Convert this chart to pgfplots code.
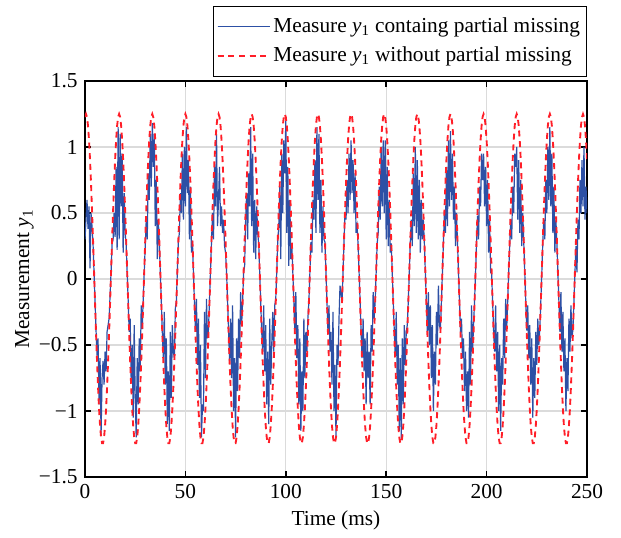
\documentclass[border=0pt]{standalone}
\usepackage{fontspec}
\setmainfont{Liberation Serif}
\usepackage{pgfplots}
\usepackage{pgfplotstable}
\pgfplotsset{compat=1.18}
\definecolor{mblue}{RGB}{45,80,165}
\definecolor{mred}{RGB}{255,30,40}
\pgfplotstableread{
t r b
0 1.227 0.30
0.5 1.250 0.45
1 1.227 0.60
1.5 1.161 0.38
2 1.052 0.55
2.5 0.905 0.08
3 0.725 0.50
3.5 0.519 0.40
4 0.295 0.27
4.5 0.060 0.05
5 -0.178 -0.17
5.5 -0.409 -0.39
6 -0.625 -0.58
6.5 -0.819 -0.45
7 -0.983 -0.95
7.5 -1.111 -0.60
8 -1.199 -1.18
8.5 -1.244 -0.75
9 -1.244 -0.62
9.5 -1.199 -0.80
10 -1.111 -0.55
10.5 -0.983 -0.70
11 -0.819 -0.40
11.5 -0.625 -0.35
12 -0.409 -0.30
12.5 -0.178 -0.12
13 0.060 0.06
13.5 0.295 0.27
14 0.519 0.30
14.5 0.725 0.50
15 0.905 0.32
15.5 1.052 0.85
16 1.161 0.22
16.5 1.227 1.15
17 1.250 0.30
17.5 1.227 1.10
18 1.161 0.55
18.5 1.052 0.95
19 0.905 0.20
19.5 0.725 0.65
20 0.519 0.35
20.5 0.295 0.26
21 0.060 0.05
21.5 -0.178 -0.16
22 -0.409 -0.40
22.5 -0.625 -0.30
23 -0.819 -0.78
23.5 -0.983 -0.50
24 -1.111 -1.05
24.5 -1.199 -0.35
25 -1.244 -0.90
25.5 -1.244 -1.20
26 -1.199 -0.60
26.5 -1.111 -0.95
27 -0.983 -0.45
27.5 -0.819 -0.70
28 -0.625 -0.20
28.5 -0.409 -0.38
29 -0.178 -0.15
29.5 0.060 0.05
30 0.295 0.25
30.5 0.519 0.45
31 0.725 0.30
31.5 0.905 0.80
32 1.052 0.60
32.5 1.161 1.10
33 1.227 0.70
33.5 1.250 1.18
34 1.227 0.85
34.5 1.161 1.10
35 1.052 0.40
35.5 0.905 0.75
36 0.725 0.15
36.5 0.519 0.45
37 0.295 0.28
37.5 0.060 0.05
38 -0.178 -0.17
38.5 -0.409 -0.40
39 -0.625 -0.60
39.5 -0.819 -0.25
40 -0.983 -0.80
40.5 -1.111 -0.45
41 -1.199 -1.10
41.5 -1.244 -0.70
42 -1.244 -1.15
42.5 -1.199 -0.40
43 -1.111 -0.90
43.5 -0.983 -0.35
44 -0.819 -0.55
44.5 -0.625 -0.60
45 -0.409 -0.22
45.5 -0.178 -0.17
46 0.060 0.06
46.5 0.295 0.28
47 0.519 0.35
47.5 0.725 0.65
48 0.905 0.50
48.5 1.052 0.95
49 1.161 0.45
49.5 1.227 1.00
50 1.250 0.55
50.5 1.227 1.15
51 1.161 0.65
51.5 1.052 0.90
52 0.905 0.30
52.5 0.725 0.70
53 0.519 0.20
53.5 0.295 0.29
54 0.060 0.05
54.5 -0.178 -0.17
55 -0.409 -0.40
55.5 -0.625 -0.15
56 -0.819 -0.65
56.5 -0.983 -0.30
57 -1.111 -0.90
57.5 -1.199 -0.50
58 -1.244 -1.20
58.5 -1.244 -0.95
59 -1.199 -1.00
59.5 -1.111 -0.25
60 -0.983 -0.75
60.5 -0.819 -0.15
61 -0.625 -0.45
61.5 -0.409 -0.38
62 -0.178 -0.16
62.5 0.060 0.06
63 0.295 0.28
63.5 0.519 0.50
64 0.725 0.30
64.5 0.905 0.85
65 1.052 0.55
65.5 1.161 1.10
66 1.227 0.40
66.5 1.250 0.60
67 1.227 0.85
67.5 1.161 0.40
68 1.052 0.55
68.5 0.905 0.35
69 0.725 0.45
69.5 0.519 0.25
70 0.295 0.20
70.5 0.060 0.05
71 -0.178 -0.17
71.5 -0.409 -0.39
72 -0.625 -0.62
72.5 -0.819 -0.30
73 -0.983 -0.75
73.5 -1.111 -0.20
74 -1.199 -1.00
74.5 -1.244 -0.60
75 -1.244 -1.20
75.5 -1.199 -0.45
76 -1.111 -0.85
76.5 -0.983 -0.30
77 -0.819 -0.60
77.5 -0.625 -0.10
78 -0.409 -0.35
78.5 -0.178 -0.17
79 0.060 0.05
79.5 0.295 0.10
80 0.519 0.45
80.5 0.725 0.65
81 0.905 0.30
81.5 1.052 0.80
82 1.161 0.55
82.5 1.227 1.15
83 1.250 0.40
83.5 1.227 0.95
84 1.161 0.20
84.5 1.052 0.60
85 0.905 0.15
85.5 0.725 0.55
86 0.519 0.35
86.5 0.295 0.27
87 0.060 0.05
87.5 -0.178 -0.17
88 -0.409 -0.40
88.5 -0.625 -0.55
89 -0.819 -0.20
89.5 -0.983 -0.70
90 -1.111 -0.35
90.5 -1.199 -0.95
91 -1.244 -0.55
91.5 -1.244 -1.10
92 -1.199 -0.30
92.5 -1.111 -0.80
93 -0.983 -0.50
93.5 -0.819 -0.25
94 -0.625 -0.55
94.5 -0.409 -0.20
95 -0.178 -0.15
95.5 0.060 0.06
96 0.295 0.29
96.5 0.519 0.40
97 0.725 0.70
97.5 0.905 0.15
98 1.052 0.95
98.5 1.161 0.50
99 1.227 1.05
99.5 1.250 0.80
100 1.227 1.20
100.5 1.161 0.35
101 1.052 0.85
101.5 0.905 0.10
102 0.725 0.60
102.5 0.519 0.15
103 0.295 0.25
103.5 0.060 0.05
104 -0.178 -0.17
104.5 -0.409 -0.40
105 -0.625 -0.10
105.5 -0.819 -0.60
106 -0.983 -0.35
106.5 -1.111 -0.95
107 -1.199 -0.45
107.5 -1.244 -1.15
108 -1.244 -0.70
108.5 -1.199 -1.00
109 -1.111 -0.30
109.5 -0.983 -0.75
110 -0.819 -0.40
110.5 -0.625 -0.55
111 -0.409 -0.30
111.5 -0.178 -0.17
112 0.060 0.05
112.5 0.295 0.28
113 0.519 0.20
113.5 0.725 0.60
114 0.905 0.45
114.5 1.052 0.90
115 1.161 0.35
115.5 1.227 1.15
116 1.250 0.60
116.5 1.227 1.10
117 1.161 0.35
117.5 1.052 0.75
118 0.905 0.20
118.5 0.725 0.55
119 0.519 0.30
119.5 0.295 0.28
120 0.060 0.05
120.5 -0.178 -0.17
121 -0.409 -0.40
121.5 -0.625 -0.20
122 -0.819 -0.55
122.5 -0.983 -0.40
123 -1.111 -0.80
123.5 -1.199 -0.25
124 -1.244 -1.00
124.5 -1.244 -0.65
125 -1.199 -1.20
125.5 -1.111 -0.50
126 -0.983 -0.65
126.5 -0.819 -0.30
127 -0.625 -0.05
127.5 -0.409 -0.10
128 -0.178 -0.17
128.5 0.060 0.05
129 0.295 0.29
129.5 0.519 0.50
130 0.725 0.45
130.5 0.905 0.75
131 1.052 0.50
131.5 1.161 0.95
132 1.227 0.60
132.5 1.250 1.05
133 1.227 0.65
133.5 1.161 0.90
134 1.052 0.50
134.5 0.905 0.80
135 0.725 0.35
135.5 0.519 0.40
136 0.295 0.26
136.5 0.060 0.05
137 -0.178 -0.17
137.5 -0.409 -0.40
138 -0.625 -0.60
138.5 -0.819 -0.30
139 -0.983 -0.70
139.5 -1.111 -0.45
140 -1.199 -0.95
140.5 -1.244 -0.40
141 -1.244 -0.75
141.5 -1.199 -0.55
142 -1.111 -0.95
142.5 -0.983 -0.35
143 -0.819 -0.55
143.5 -0.625 -0.10
144 -0.409 -0.30
144.5 -0.178 -0.17
145 0.060 0.05
145.5 0.295 0.27
146 0.519 0.35
146.5 0.725 0.70
147 0.905 0.45
147.5 1.052 1.00
148 1.161 0.55
148.5 1.227 1.05
149 1.250 0.50
149.5 1.227 1.05
150 1.161 0.30
150.5 1.052 0.85
151 0.905 0.25
151.5 0.725 0.60
152 0.519 0.20
152.5 0.295 0.27
153 0.060 0.05
153.5 -0.178 -0.17
154 -0.409 -0.38
154.5 -0.625 -0.58
155 -0.819 -0.25
155.5 -0.983 -0.80
156 -1.111 -0.50
156.5 -1.199 -1.15
157 -1.244 -0.60
157.5 -1.244 -1.22
158 -1.199 -0.45
158.5 -1.111 -0.95
159 -0.983 -0.35
159.5 -0.819 -0.65
160 -0.625 -0.40
160.5 -0.409 -0.35
161 -0.178 -0.17
161.5 0.060 0.05
162 0.295 0.28
162.5 0.519 0.45
163 0.725 0.25
163.5 0.905 0.80
164 1.052 0.40
164.5 1.161 1.00
165 1.227 0.35
165.5 1.250 0.90
166 1.227 0.30
166.5 1.161 0.75
167 1.052 0.20
167.5 0.905 0.60
168 0.725 0.30
168.5 0.519 0.45
169 0.295 0.27
169.5 0.060 0.05
170 -0.178 -0.17
170.5 -0.409 -0.40
171 -0.625 -0.10
171.5 -0.819 -0.50
172 -0.983 -0.20
172.5 -1.111 -0.75
173 -1.199 -0.35
173.5 -1.244 -1.00
174 -1.244 -0.55
174.5 -1.199 -0.80
175 -1.111 -0.25
175.5 -0.983 -0.50
176 -0.819 -0.05
176.5 -0.625 -0.35
177 -0.409 -0.38
177.5 -0.178 -0.17
178 0.060 0.05
178.5 0.295 0.28
179 0.519 0.50
179.5 0.725 0.35
180 0.905 0.85
180.5 1.052 0.40
181 1.161 1.05
181.5 1.227 0.55
182 1.250 1.12
182.5 1.227 0.60
183 1.161 0.95
183.5 1.052 0.45
184 0.905 0.70
184.5 0.725 0.25
185 0.519 0.50
185.5 0.295 0.28
186 0.060 0.05
186.5 -0.178 -0.17
187 -0.409 -0.40
187.5 -0.625 -0.30
188 -0.819 -0.60
188.5 -0.983 -0.45
189 -1.111 -0.85
189.5 -1.199 -0.55
190 -1.244 -1.00
190.5 -1.244 -0.70
191 -1.199 -1.05
191.5 -1.111 -0.40
192 -0.983 -0.80
192.5 -0.819 -0.20
193 -0.625 -0.55
193.5 -0.409 -0.35
194 -0.178 -0.17
194.5 0.060 0.05
195 0.295 0.28
195.5 0.519 0.48
196 0.725 0.30
196.5 0.905 0.70
197 1.052 0.55
197.5 1.161 0.95
198 1.227 0.75
198.5 1.250 0.95
199 1.227 0.55
199.5 1.161 0.85
200 1.052 0.40
200.5 0.905 0.75
201 0.725 0.20
201.5 0.519 0.45
202 0.295 0.05
202.5 0.060 0.04
203 -0.178 -0.17
203.5 -0.409 -0.40
204 -0.625 -0.55
204.5 -0.819 -0.20
205 -0.983 -0.70
205.5 -1.111 -0.40
206 -1.199 -1.00
206.5 -1.244 -0.50
207 -1.244 -1.15
207.5 -1.199 -0.60
208 -1.111 -0.80
208.5 -0.983 -0.30
209 -0.819 -0.60
209.5 -0.625 -0.15
210 -0.409 -0.38
210.5 -0.178 -0.17
211 0.060 0.05
211.5 0.295 0.25
212 0.519 0.45
212.5 0.725 0.30
213 0.905 0.70
213.5 1.052 0.50
214 1.161 0.95
214.5 1.227 0.85
215 1.250 1.00
215.5 1.227 0.45
216 1.161 0.90
216.5 1.052 0.35
217 0.905 0.75
217.5 0.725 0.25
218 0.519 0.50
218.5 0.295 0.28
219 0.060 0.05
219.5 -0.178 -0.17
220 -0.409 -0.39
220.5 -0.625 -0.20
221 -0.819 -0.60
221.5 -0.983 -0.35
222 -1.111 -0.80
222.5 -1.199 -0.45
223 -1.244 -1.05
223.5 -1.244 -0.60
224 -1.199 -0.90
224.5 -1.111 -0.40
225 -0.983 -0.65
225.5 -0.819 -0.30
226 -0.625 -0.50
226.5 -0.409 -0.38
227 -0.178 -0.17
227.5 0.060 0.05
228 0.295 0.28
228.5 0.519 0.45
229 0.725 0.30
229.5 0.905 0.75
230 1.052 0.50
230.5 1.161 1.00
231 1.227 0.60
231.5 1.250 1.15
232 1.227 0.55
232.5 1.161 0.95
233 1.052 0.35
233.5 0.905 0.70
234 0.725 0.20
234.5 0.519 0.45
235 0.295 0.27
235.5 0.060 0.05
236 -0.178 -0.17
236.5 -0.409 -0.40
237 -0.625 -0.10
237.5 -0.819 -0.55
238 -0.983 -0.25
238.5 -1.111 -0.70
239 -1.199 -0.45
239.5 -1.244 -1.00
240 -1.244 -0.60
240.5 -1.199 -0.85
241 -1.111 -0.30
241.5 -0.983 -0.55
242 -0.819 -0.20
242.5 -0.625 -0.45
243 -0.409 -0.38
243.5 -0.178 -0.17
244 0.060 0.05
244.5 0.295 0.25
245 0.519 0.05
245.5 0.725 0.45
246 0.905 0.30
246.5 1.052 0.75
247 1.161 0.50
247.5 1.227 0.90
248 1.250 0.55
248.5 1.227 1.00
249 1.161 0.45
249.5 1.052 0.70
250 0.905 0.50
}\data

\begin{document}
\fontsize{16}{19}\selectfont
\begin{tikzpicture}
\begin{axis}[
  scale only axis, width=376.5pt, height=297pt,
  xmin=0, xmax=250, ymin=-1.5, ymax=1.5,
  xtick={0,50,100,150,200,250},
  ytick={-1.5,-1,-0.5,0,0.5,1,1.5},
  yticklabels={−1.5,−1,−0.5,0,0.5,1,1.5},
  /pgf/number format/assume math mode=true,
  grid=major,
  major grid style={draw=black!14, line width=0.8pt},
  axis line style={line width=1.7pt},
  tick style={black, line width=1.2pt},
  major tick length=4.5pt,
  tick label style={font=\fontsize{16}{19}\selectfont},
  label style={font=\fontsize{16}{19}\selectfont},
  xlabel={Time (ms)},
  ylabel={Measurement \textit{y}\textsubscript{1}},
  xlabel style={yshift=2pt},
  ylabel style={yshift=-7pt},
  legend style={at={(1,1.012)}, anchor=south east, draw=black,
    font=\fontsize{16}{19}\selectfont, row sep=4.3pt, inner xsep=3pt, inner ysep=6.5pt},
  legend cell align=left,
]
\addplot[color=mblue, line width=0.9pt,
  legend image code/.code={\draw[color=mblue, line width=1.3pt] (0pt,0pt) -- (33pt,0pt);
    \path (0pt,0pt) -- (39pt,0pt);}]
  table[x=t, y=b] {\data};
\addlegendentry{Measure \textit{y}\textsubscript{1} containg partial missing}
\addplot[color=mred, line width=1.4pt, dash pattern=on 4.5pt off 3.5pt,
  legend image code/.code={\draw[color=mred, line width=1.4pt, dash pattern=on 4pt off 4pt] (0pt,0pt) -- (33pt,0pt);
    \path (0pt,0pt) -- (39pt,0pt);}]
  table[x=t, y=r] {\data};
\addlegendentry{Measure \textit{y}\textsubscript{1} without partial missing}
\end{axis}
\path (-63.75pt,-39pt) rectangle (402pt,357.75pt);
\end{tikzpicture}
\end{document}
